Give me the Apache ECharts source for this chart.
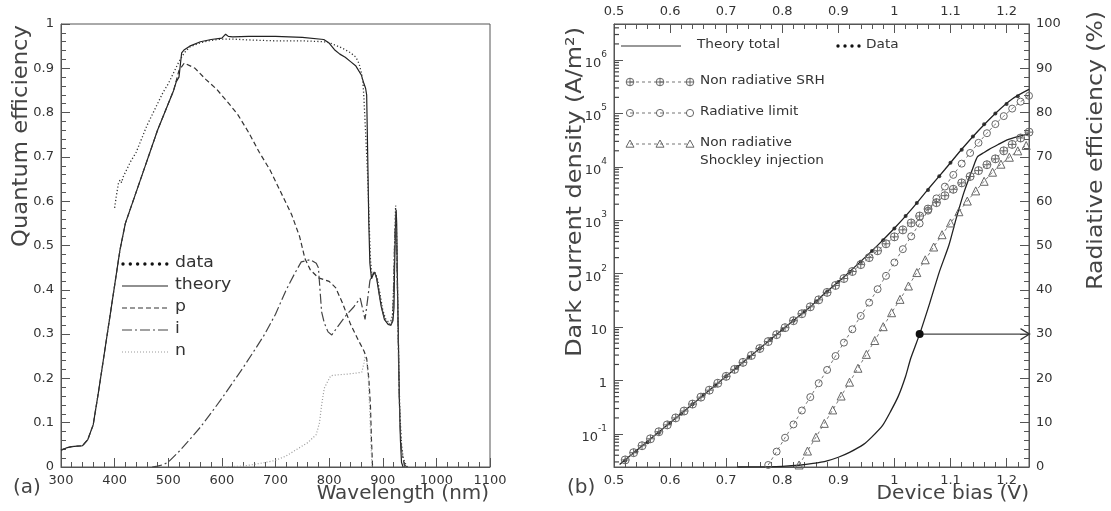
<!DOCTYPE html>
<html><head><meta charset="utf-8">
<script src="https://cdn.jsdelivr.net/npm/echarts@6/dist/echarts.min.js"></script>
<style>html,body{margin:0;padding:0;background:#fff}#c{width:1111px;height:511px}</style>
</head><body><div id="c"></div>
<script>
// ---------- Panel (a): quantum efficiency vs wavelength ----------
const theoryWl = [300,310,320,330,340,350,360,370,380,390,400,410,420,440,460,480,500,510,515,520,525,530,540,560,580,600,607,612,620,650,700,750,790,800,810,820,830,840,850,860,865,868,870,872,874,876,879,884,888,892,897,903,910,915,919,921,922,924,925,926,927,929,931,933,935,938];
const theoryQe = [0.038,0.043,0.046,0.047,0.048,0.062,0.095,0.17,0.25,0.33,0.41,0.49,0.55,0.62,0.69,0.76,0.82,0.85,0.87,0.88,0.935,0.942,0.95,0.96,0.965,0.968,0.977,0.972,0.971,0.972,0.972,0.97,0.965,0.957,0.942,0.932,0.925,0.915,0.905,0.885,0.865,0.855,0.84,0.7,0.55,0.46,0.425,0.44,0.43,0.40,0.363,0.333,0.322,0.32,0.33,0.36,0.45,0.55,0.58,0.55,0.45,0.3,0.15,0.06,0.01,0];
const dataWl = [400,403,407,410,413,416,420,430,440,450,460,470,480,490,500,510,520,530,540,560,580,600,620,650,700,750,790,800,810,820,830,840,850,856,860,863,865,867,869,871,873,875,877,880,885,890,895,900,905,910,915,918,920,922,924,926,928,930,932,935,938,942,946];
const dataQe = [0.585,0.61,0.64,0.648,0.642,0.655,0.665,0.69,0.71,0.74,0.77,0.795,0.82,0.845,0.865,0.89,0.915,0.935,0.948,0.958,0.963,0.966,0.966,0.964,0.962,0.962,0.96,0.958,0.953,0.948,0.942,0.935,0.925,0.91,0.89,0.87,0.83,0.78,0.73,0.68,0.62,0.54,0.47,0.43,0.44,0.425,0.39,0.355,0.335,0.328,0.33,0.34,0.4,0.5,0.59,0.52,0.37,0.22,0.12,0.05,0.02,0.008,0];
const pWl = [300,310,320,330,340,350,360,370,380,390,400,410,420,440,460,480,500,510,520,530,550,570,590,610,630,650,670,690,710,730,745,755,765,780,800,812,825,840,855,865,870,874,877,879,881];
const pQe = [0.038,0.043,0.046,0.047,0.048,0.062,0.095,0.17,0.25,0.33,0.41,0.49,0.55,0.62,0.69,0.76,0.82,0.85,0.895,0.912,0.9,0.875,0.853,0.825,0.795,0.755,0.71,0.67,0.62,0.57,0.52,0.47,0.445,0.427,0.419,0.405,0.37,0.322,0.285,0.262,0.245,0.2,0.14,0.06,0];
const iWl = [470,480,490,500,520,540,560,580,600,620,640,660,680,700,720,735,748,765,776,780,783,786,791,798,805,815,830,845,858,862,867,872,876,880,885,890,895,900,905,910,915,918,920,922,924,926,928,930,932,935,940,945];
const iQe = [0,0.002,0.005,0.011,0.035,0.062,0.09,0.122,0.155,0.19,0.225,0.262,0.3,0.345,0.4,0.435,0.463,0.468,0.46,0.45,0.4,0.35,0.325,0.305,0.298,0.315,0.34,0.36,0.381,0.36,0.333,0.38,0.42,0.435,0.44,0.42,0.38,0.35,0.33,0.325,0.32,0.33,0.38,0.5,0.57,0.5,0.35,0.2,0.1,0.04,0.005,0];
const nWl = [600,640,680,700,720,740,760,776,782,786,791,796,803,815,836,850,861,865,867,870,873,876,878,880];
const nQe = [0,0.002,0.01,0.015,0.025,0.04,0.055,0.073,0.1,0.14,0.178,0.19,0.206,0.208,0.21,0.212,0.214,0.235,0.25,0.24,0.2,0.12,0.05,0];

// ---------- Panel (b): dark current density vs bias ----------
const vTotal = [0.51,0.6,0.7,0.8,0.85,0.88,0.91,0.94,0.97,1.0,1.03,1.06,1.09,1.12,1.15,1.18,1.21,1.24];
const jTotal = [0.0269,0.162,1.20,8.91,24.0,46.8,87.1,170,339,708,1585,3802,8913,21380,47860,100000,186200,281800];
const vData = [0.52,0.54,0.56,0.58,0.60,0.62,0.64,0.66,0.68,0.70,0.72,0.74,0.76,0.78,0.80,0.82,0.84,0.86,0.88,0.90,0.92,0.94,0.96,0.98,1.00,1.02,1.04,1.06,1.08,1.10,1.12,1.14,1.16,1.18,1.20,1.22];
const jData = [0.032,0.047,0.070,0.105,0.16,0.24,0.36,0.54,0.80,1.2,1.8,2.7,4.0,6.0,8.9,13.2,19.9,30,46,70,108,168,265,425,700,1200,2100,3700,6700,12000,21000,37000,63000,100000,150000,210000];
const vSRH = [0.52,0.535,0.55,0.565,0.58,0.595,0.61,0.625,0.64,0.655,0.67,0.685,0.70,0.715,0.73,0.745,0.76,0.775,0.79,0.805,0.82,0.835,0.85,0.865,0.88,0.895,0.91,0.925,0.94,0.955,0.97,0.985,1.00,1.015,1.03,1.045,1.06,1.075,1.09,1.105,1.12,1.135,1.15,1.165,1.18,1.195,1.21,1.225,1.24];
const jSRH = [0.0327,0.0447,0.0603,0.0813,0.110,0.148,0.200,0.269,0.363,0.490,0.661,0.891,1.20,1.62,2.19,2.95,3.98,5.37,7.24,9.77,13.2,17.8,24.0,32.4,44.7,60.3,81.3,110,148,200,269,363,490,661,891,1202,1622,2138,2884,3802,5012,6607,8511,10965,14125,19953,26303,34674,44668];
const vRad = [0.775,0.79,0.805,0.82,0.835,0.85,0.865,0.88,0.895,0.91,0.925,0.94,0.955,0.97,0.985,1.00,1.015,1.03,1.045,1.06,1.075,1.09,1.105,1.12,1.135,1.15,1.165,1.18,1.195,1.21,1.225,1.24];
const jRad = [0.0263,0.0468,0.0851,0.151,0.275,0.490,0.891,1.58,2.88,5.13,9.12,16.2,28.8,51.3,91.2,162,288,501,871,1514,2570,4266,7079,11482,18197,28184,42658,63096,89125,123027,165959,213796];
const vShock = [0.83,0.845,0.86,0.875,0.89,0.905,0.92,0.935,0.95,0.965,0.98,0.995,1.01,1.025,1.04,1.055,1.07,1.085,1.10,1.115,1.13,1.145,1.16,1.175,1.19,1.205,1.22,1.235];
const jShock = [0.0263,0.0479,0.0871,0.158,0.282,0.513,0.933,1.70,3.09,5.62,10.2,18.6,33.1,58.9,105,182,316,537,891,1445,2291,3548,5370,7943,11220,15136,19953,25119];
const vEff = [0.72,0.75,0.77,0.80,0.83,0.855,0.88,0.90,0.92,0.945,0.96,0.979,0.993,1.007,1.02,1.029,1.045,1.063,1.08,1.097,1.11,1.124,1.14,1.148,1.16,1.169,1.185,1.2,1.22,1.24];
const effPct = [0,0.02,0.05,0.15,0.4,0.8,1.4,2.2,3.3,5.1,6.8,9.4,12.5,16,20.5,24.5,30,37,44,50,56,62,67.5,70,71,71.7,72.8,73.8,74.6,75.2];
const arrowFrom = [1.045, 30];
const arrowTo = [1.24, 30];
// minor tick values of the logarithmic current axis
const logMinorTicks = [0.03,0.04,0.05,0.06,0.07,0.08,0.09,0.2,0.3,0.4,0.5,0.6,0.7,0.8,0.9,2,3,4,5,6,7,8,9,20,30,40,50,60,70,80,90,200,300,400,500,600,700,800,900,2000,3000,4000,5000,6000,7000,8000,9000,20000,30000,40000,50000,60000,70000,80000,90000,200000,300000,400000,500000,600000,700000,800000,900000,2000000,3000000,4000000];
const tickAnchorV = 0.5;

const zip = (a, b) => a.map((x, k) => [x, b[k]]);
const FONT = "DejaVu Sans";
const AX = '#555', TXT = '#333';

const tick = { inside: true, length: 9, lineStyle: { color: AX, width: 1 } };
const minor = (n) => ({ show: true, splitNumber: n, length: 5, lineStyle: { color: AX, width: 1 } });
const lab = (extra) => Object.assign({ color: TXT, fontSize: 13, fontFamily: FONT, margin: 7 }, extra || {});
const noSplit = { show: false };
const plain = (v) => String(v);
const oneDec = (v) => Math.abs(v * 10 - Math.round(v * 10)) < 1e-6 ? String(+v.toFixed(1)) : '';
const logLabel = (v) => {
  const l = Math.log10(v), e = Math.round(l);
  if (Math.abs(l - e) > 1e-6) return '';
  if (e === 0) return '{b|1}';
  if (e === 1) return '{b|10}';
  return '{b|10}{s|' + e + '}';
};

const CROSS = 'path://M0,5A5,5 0 1,0 10,5A5,5 0 1,0 0,5ZM5,0L5,10M0,5L10,5';
const CHEV = 'path://M0,0L10,5L0,10';
const markerLine = { color: '#777', width: 1, type: [3, 3] };
const openItem = { color: 'rgba(0,0,0,0)', borderColor: '#666', borderWidth: 1 };

// ---------- legend / title helpers (graphic) ----------
const g = [];
function txt(x, y, s, size, opts) {
  const o = opts || {};
  g.push({ type: 'text', x, y, silent: true, rotation: o.rot || 0, scaleX: o.sx || 1, scaleY: 1,
    style: { text: s, font: size + 'px "' + FONT + '"', fill: o.fill || TXT, align: o.align || 'left', verticalAlign: 'middle' } });
}
function seg(x1, y1, x2, y2, dash, color, w) {
  g.push({ type: 'line', silent: true, shape: { x1, y1, x2, y2 },
    style: { stroke: color || '#222', lineWidth: w || 1.2, lineDash: dash || null } });
}
function dot(x, y, r) { g.push({ type: 'circle', silent: true, shape: { cx: x, cy: y, r }, style: { fill: '#111' } }); }
function ring(x, y, r) { g.push({ type: 'circle', silent: true, shape: { cx: x, cy: y, r }, style: { fill: 'none', stroke: '#666', lineWidth: 1 } }); }
function crossRing(x, y, r) { ring(x, y, r); seg(x - r, y, x + r, y, null, '#666', 1); seg(x, y - r, x, y + r, null, '#666', 1); }
function tri(x, y, r) {
  g.push({ type: 'polygon', silent: true, shape: { points: [[x, y - r], [x + r, y + r * 0.8], [x - r, y + r * 0.8]] },
    style: { fill: 'none', stroke: '#666', lineWidth: 1 } });
}

// panel (a) legend
for (let k = 0; k < 7; k++) dot(123 + k * 7.3, 264, 1.7);
txt(175, 263, 'data', 16, { sx: 1.08 });
seg(122, 286, 168, 286, null, '#222', 1.2); txt(175, 285, 'theory', 16, { sx: 1.08 });
seg(122, 308, 168, 308, [5, 3], '#333', 1.2); txt(175, 307, 'p', 16, { sx: 1.08 });
seg(122, 330, 168, 330, [10, 3, 2, 3], '#444', 1.2); txt(175, 329, 'i', 16, { sx: 1.08 });
seg(122, 352, 168, 352, [1, 2], '#999', 1.2); txt(175, 351, 'n', 16, { sx: 1.08 });

// panel (b) legend
seg(621, 46, 681, 46, null, '#333', 1.2); txt(697, 45, 'Theory total', 13, { sx: 1.05 });
for (let k = 0; k < 4; k++) dot(838 + k * 7, 46, 1.7);
txt(866, 45, 'Data', 13, { sx: 1.05 });
seg(630, 82, 690, 82, [3, 3], '#777', 1); [630, 660, 690].forEach(x => crossRing(x, 82, 3.8));
txt(700, 81, 'Non radiative SRH', 13, { sx: 1.05 });
seg(630, 113, 690, 113, [3, 3], '#777', 1); [630, 660, 690].forEach(x => ring(x, 113, 3.6));
txt(700, 112, 'Radiative limit', 13, { sx: 1.05 });
seg(630, 144, 690, 144, [3, 3], '#777', 1); [630, 660, 690].forEach(x => tri(x, 144, 4));
txt(700, 143, 'Non radiative', 13, { sx: 1.05 });
txt(700, 161, 'Shockley injection', 13, { sx: 1.05 });

// titles
const R90 = Math.PI / 2;
txt(22, 25, 'Quantum efficiency', 21, { rot: R90, align: 'right', fill: '#444', sx: 1.08 });
txt(489, 494, 'Wavelength (nm)', 19, { align: 'right', fill: '#444', sx: 1.05 });
txt(13, 488, '(a)', 20, { fill: '#444' });
txt(567, 488, '(b)', 20, { fill: '#444' });
txt(1029, 494, 'Device bias (V)', 19, { align: 'right', fill: '#444', sx: 1.06 });
txt(576, 27, 'Dark current density (A/m²)', 21, { rot: R90, align: 'right', fill: '#444', sx: 1.14 });
txt(1097, 11, 'Radiative efficiency (%)', 21, { rot: R90, align: 'right', fill: '#444', sx: 1.12 });

const option = {
  animation: false,
  backgroundColor: '#fff',
  grid: [
    { left: 61, top: 24, width: 429, height: 443, show: true, borderColor: AX, borderWidth: 1, backgroundColor: 'transparent' },
    { left: 614, top: 24, width: 415, height: 443, show: true, borderColor: AX, borderWidth: 1, backgroundColor: 'transparent' }
  ],
  xAxis: [
    { gridIndex: 0, type: 'value', min: 300, max: 1100, interval: 100, axisLine: { lineStyle: { color: AX } },
      axisTick: tick, minorTick: minor(5), axisLabel: lab({ formatter: plain }), splitLine: noSplit },
    { gridIndex: 1, type: 'value', min: 0.5, max: 1.24, interval: 0.1, position: 'bottom', axisLine: { lineStyle: { color: AX } },
      axisTick: tick, minorTick: minor(5), axisLabel: lab({ formatter: oneDec, showMaxLabel: false }), splitLine: noSplit },
    { gridIndex: 1, type: 'value', min: 0.5, max: 1.24, interval: 0.1, position: 'top', axisLine: { lineStyle: { color: AX } },
      axisTick: tick, minorTick: minor(5), axisLabel: lab({ formatter: oneDec, showMaxLabel: false, margin: 6 }), splitLine: noSplit }
  ],
  yAxis: [
    { gridIndex: 0, type: 'value', min: 0, max: 1, interval: 0.1, axisLine: { lineStyle: { color: AX } },
      axisTick: tick, minorTick: minor(5), axisLabel: lab({ formatter: plain }), splitLine: noSplit },
    { gridIndex: 1, type: 'log', logBase: 10, min: 0.0241, max: 4.72e6, splitNumber: 9, position: 'left',
      axisLine: { lineStyle: { color: AX } }, axisTick: tick, minorTick: { show: false },
      axisLabel: lab({ formatter: logLabel, showMinLabel: false, showMaxLabel: false,
        rich: { b: { fontSize: 13, fontFamily: FONT, color: TXT, lineHeight: 20, verticalAlign: 'bottom' },
                s: { fontSize: 9, fontFamily: FONT, color: TXT, lineHeight: 20, verticalAlign: 'top' } } }),
      splitLine: noSplit },
    { gridIndex: 1, type: 'value', min: 0, max: 100, interval: 10, position: 'right', axisLine: { lineStyle: { color: AX } },
      axisTick: tick, minorTick: minor(5), axisLabel: lab(), splitLine: noSplit }
  ],
  series: [
    { name: 'theory', type: 'line', xAxisIndex: 0, yAxisIndex: 0, data: zip(theoryWl, theoryQe), showSymbol: false,
      lineStyle: { color: '#222', width: 1.2 } },
    { name: 'data', type: 'line', xAxisIndex: 0, yAxisIndex: 0, data: zip(dataWl, dataQe), showSymbol: false,
      lineStyle: { color: '#333', width: 1.3, type: [1.2, 2.2] } },
    { name: 'p', type: 'line', xAxisIndex: 0, yAxisIndex: 0, data: zip(pWl, pQe), showSymbol: false,
      lineStyle: { color: '#333', width: 1.2, type: [5, 3] } },
    { name: 'i', type: 'line', xAxisIndex: 0, yAxisIndex: 0, data: zip(iWl, iQe), showSymbol: false,
      lineStyle: { color: '#444', width: 1.2, type: [10, 3, 2, 3] } },
    { name: 'n', type: 'line', xAxisIndex: 0, yAxisIndex: 0, data: zip(nWl, nQe), showSymbol: false,
      lineStyle: { color: '#999', width: 1.2, type: [1, 2] } },

    { name: 'log minor ticks', type: 'custom', coordinateSystem: 'cartesian2d', xAxisIndex: 1, yAxisIndex: 1, clip: false, silent: true,
      encode: { x: 0, y: 1 },
      data: logMinorTicks.map(v => [tickAnchorV, v]),
      renderItem: function (params, api) {
        const p = api.coord([api.value(0), api.value(1)]);
        return { type: 'rect', shape: { x: p[0], y: p[1] - 0.6, width: 5, height: 1.2 }, style: { fill: '#444' } };
      },
      z: 10 },
    { name: 'Theory total', type: 'line', xAxisIndex: 1, yAxisIndex: 1, data: zip(vTotal, jTotal), showSymbol: false, smooth: 0.3,
      lineStyle: { color: '#222', width: 1.3 } },
    { name: 'Non radiative SRH', type: 'line', xAxisIndex: 1, yAxisIndex: 1, data: zip(vSRH, jSRH), symbol: CROSS, symbolSize: 8,
      itemStyle: openItem, lineStyle: markerLine },
    { name: 'Radiative limit', type: 'line', xAxisIndex: 1, yAxisIndex: 1, data: zip(vRad, jRad), symbol: 'circle', symbolSize: 7,
      itemStyle: openItem, lineStyle: markerLine },
    { name: 'Non radiative Shockley injection', type: 'line', xAxisIndex: 1, yAxisIndex: 1, data: zip(vShock, jShock), symbol: 'triangle', symbolSize: 8,
      itemStyle: openItem, lineStyle: markerLine },
    { name: 'Data', type: 'scatter', xAxisIndex: 1, yAxisIndex: 1, data: zip(vData, jData), symbol: 'circle', symbolSize: 4,
      itemStyle: { color: '#111' } },
    { name: 'Radiative efficiency', type: 'line', xAxisIndex: 1, yAxisIndex: 2, data: zip(vEff, effPct), showSymbol: false, smooth: 0.2,
      lineStyle: { color: '#222', width: 1.3 } },
    { name: 'arrow', type: 'line', xAxisIndex: 1, yAxisIndex: 2, clip: false, showSymbol: true,
      data: [
        { value: arrowFrom, symbol: 'circle', symbolSize: 8, itemStyle: { color: '#111' } },
        { value: arrowTo, symbol: CHEV, symbolSize: [9, 11], symbolOffset: [-4, 0],
          itemStyle: { color: 'rgba(0,0,0,0)', borderColor: '#333', borderWidth: 1.3 } }
      ],
      lineStyle: { color: '#444', width: 1.3 } }
  ],
  graphic: g
};

const chart = echarts.init(document.getElementById('c'), null, { renderer: 'canvas' });
chart.setOption(option);
</script>
</body></html>
